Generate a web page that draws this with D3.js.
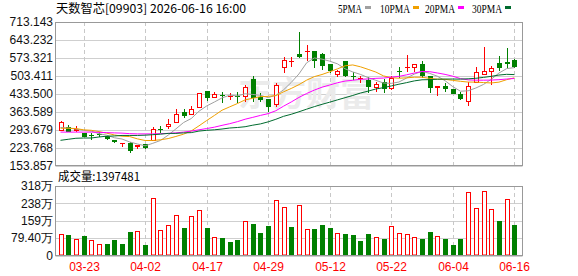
<!DOCTYPE html>
<html><head><meta charset="utf-8">
<script src="https://cdn.jsdelivr.net/npm/d3@7"></script>
<style>html,body{margin:0;padding:0;background:#fff;}svg{display:block;}</style>
</head><body><svg id="c" width="578" height="276"></svg>
<script>
const title = "天数智芯[09903] 2026-06-16 16:00";
const dates = ["03-18","03-19","03-20","03-23","03-24","03-25","03-26","03-27","03-30","03-31",
"04-01","04-02","04-08","04-09","04-10","04-13","04-14","04-15","04-16","04-17",
"04-20","04-21","04-22","04-23","04-24","04-27","04-28","04-29","04-30","05-04",
"05-05","05-06","05-07","05-08","05-11","05-12","05-13","05-14","05-15","05-18",
"05-19","05-20","05-21","05-22","05-26","05-27","05-28","05-29","06-01","06-02",
"06-03","06-04","06-05","06-08","06-09","06-10","06-11","06-12","06-15","06-16"];
const open  = [289.3,304.9,287.0,280.3,272.6,275.0,269.8,253.0,236.3,240.2,226.9,236.3,248.0,298.0,303.8,318.2,362.2,349.4,376.6,445.3,
418.0,429.0,424.0,426.0,421.9,490.9,421.9,413.0,389.5,532.6,558.0,588.4,597.3,600.1,588.4,549.4,506.5,561.1,502.0,491.0,
487.0,454.6,480.0,450.7,521.0,535.0,535.0,548.0,502.6,454.6,463.6,451.9,432.4,402.4,474.1,506.5,519.5,552.0,556.0,565.0];
const high  = [327.0,311.0,307.6,281.0,279.2,285.4,270.0,253.0,240.2,246.4,233.6,237.6,302.6,307.6,333.5,373.9,373.9,386.8,437.5,445.3,
440.2,441.4,436.0,441.0,467.5,503.8,435.1,413.0,476.5,575.5,578.0,673.0,623.5,601.0,591.0,549.4,526.0,561.1,519.0,502.0,
497.5,480.0,490.9,502.0,536.0,584.5,548.0,562.0,503.0,463.6,476.5,451.9,439.0,480.0,536.5,614.5,541.6,580.6,610.6,569.0];
const low   = [289.0,284.0,286.0,264.0,253.0,265.9,255.0,242.5,227.0,203.5,216.8,219.0,248.0,281.5,294.8,318.0,337.6,349.0,376.6,405.1,
415.0,396.0,409.0,396.0,402.4,402.4,400.0,361.0,383.0,513.0,539.0,571.6,561.0,535.0,526.0,513.0,497.5,497.5,487.0,477.0,
435.0,441.0,437.5,450.0,493.0,519.0,519.0,496.0,437.5,424.6,441.0,432.4,410.0,386.8,474.0,506.0,467.5,523.0,532.6,532.6];
const close = [323.2,285.2,295.9,265.9,268.7,272.6,256.9,246.4,240.2,211.3,233.6,221.9,294.8,295.5,315.2,354.4,346.6,372.7,437.5,418.0,
431.2,427.0,426.0,424.0,458.5,418.0,410.2,383.0,467.5,565.0,562.0,575.5,601.2,561.1,541.6,523.3,524.0,503.8,500.0,493.0,
461.0,471.4,450.7,493.6,519.0,539.0,548.0,503.8,454.6,463.6,451.9,432.4,414.1,463.6,517.0,522.0,532.6,535.0,550.5,536.5];
// volume in 万 (10k shares)
const volume = [97.5,93,75,88.5,70,51,52,70,52,107,111,48,264,116,141.5,187,125,182,210,125,
82.5,79,61,70,156.5,143,102,134,255,223,129,232,119,120,138,125,105,97.5,93,67,
97.5,82.5,75,137,105,96,82.5,75,107,87,75,48,75,291,219,296,214,156.5,259.5,139.7481];
// volume bar direction as drawn: 1 = red (up), 0 = green (down)
const volUp = [1,0,1,0,1,1,0,0,0,0,1,0,1,1,1,1,0,1,1,0,
1,0,0,0,1,0,0,0,1,1,0,1,1,0,0,0,1,0,0,0,
0,1,0,1,1,1,1,0,0,1,0,0,0,1,1,1,1,0,1,0];
// MA values before a full window is available
const ma5Head  = [302,300,296,291];
const ma10Head = [299,299,298,293,291,286,280,273,268];
const ma20Head = [284,284,284,284,284,283,282,281,280,278,277,277,277,278,279,281,284,288,293];
const ma30Head = [252,256,260,261,261,265,268,269,271,271,271,272,274,276,279,279,281,282,288,291,293,296,300,302,305,311,316,324,334];
const priceTicks = [153.857,223.768,293.679,363.589,433.500,503.411,573.321,643.232,713.143];
const volTicks = [0,79.4,158.8,238.2,317.6];
const volTickLabels = ["0","79.40万","159万","238万","318万"];
const xTicks = ["03-23","04-02","04-17","04-29","05-12","05-22","06-04","06-16"];
const maNames = ["5PMA","10PMA","20PMA","30PMA"];
const maColors = ["#a0a0a0","#f0a000","#ff00ff","#006b2e"];
const volLabel = "成交量:1397481";

function ma(n, head){
  return close.map((c,i)=> i < n-1 ? head[i] : d3.mean(close.slice(i-n+1,i+1)));
}
const maSeries = [ma(5,ma5Head), ma(10,ma10Head), ma(20,ma20Head), ma(30,ma30Head)];

const svg = d3.select("#c");
const L = 55.5, R = 522.5, T = 22, B = 165.5, VT = 186, VB = 255.5;
const x = d3.scalePoint().domain(dates).range([60.5, 514.3]);
const y = d3.scaleLinear().domain([153.857, 713.143]).range([B, T]);
const yv = d3.scaleLinear().domain([0, 317.6]).range([VB, VT]);
const cx = d => Math.round(x(d)) + 0.5;
const RED = "#ff0000", GREEN = "#008000";

// grids
const g = svg.append("g");
g.selectAll(".hg").data(priceTicks).join("line")
  .attr("x1",L).attr("x2",R).attr("y1",d=>Math.round(y(d))+0.5).attr("y2",d=>Math.round(y(d))+0.5)
  .attr("stroke","#cfcfcf").attr("stroke-width",1);
g.selectAll(".vg").data(volTicks).join("line")
  .attr("x1",L).attr("x2",R).attr("y1",d=>Math.round(yv(d))+0.5).attr("y2",d=>Math.round(yv(d))+0.5)
  .attr("stroke","#cfcfcf").attr("stroke-width",1);
xTicks.forEach(t=>{
  [[T,B],[VT,VB]].forEach(([a,b])=>{
    g.append("line").attr("x1",cx(t)).attr("x2",cx(t)).attr("y1",a).attr("y2",b)
      .attr("stroke","#c8c8c8").attr("stroke-dasharray","4,3");
  });
});

// watermark
svg.append("text").attr("x",238).attr("y",106).text("东方财富")
  .attr("font-family","Noto Sans CJK SC").attr("font-weight","bold").attr("font-size",34)
  .attr("fill","#ebebeb");

// candles
const idx = d3.range(dates.length);
const cg = svg.append("g");
idx.forEach(i=>{
  const d = dates[i], X = cx(d);
  const up = close[i] >= open[i];
  const col = up ? RED : GREEN;
  const top = Math.round(y(Math.max(open[i],close[i])));
  const bot = Math.round(y(Math.min(open[i],close[i])));
  const hY = Math.round(y(high[i])), lY = Math.round(y(low[i]));
  if (up) {
    if (hY < top) cg.append("line").attr("x1",X).attr("x2",X).attr("y1",hY).attr("y2",top+0.5).attr("stroke",col);
    if (lY > bot) cg.append("line").attr("x1",X).attr("x2",X).attr("y1",bot-0.5).attr("y2",lY).attr("stroke",col);
    if (bot - top >= 2) {
      cg.append("rect").attr("x",X-2).attr("y",top+0.5).attr("width",4).attr("height",bot-top-1)
        .attr("fill","#fff").attr("stroke",col).attr("stroke-width",1);
    } else {
      cg.append("rect").attr("x",X-2.5).attr("y",top).attr("width",5).attr("height",Math.max(1,bot-top)).attr("fill",col);
    }
  } else {
    cg.append("line").attr("x1",X).attr("x2",X).attr("y1",hY).attr("y2",lY).attr("stroke",col);
    cg.append("rect").attr("x",X-2.5).attr("y",top).attr("width",5).attr("height",Math.max(1,bot-top)).attr("fill",col);
  }
});

// MA lines
const line = d3.line().x((v,i)=>x(dates[i])).y(v=>y(v));
maSeries.forEach((s,k)=>{
  svg.append("path").attr("d",line(s)).attr("fill","none").attr("stroke",maColors[k]).attr("stroke-width",1);
});

// volume bars
const vg = svg.append("g");
idx.forEach(i=>{
  const X = cx(dates[i]);
  const t = Math.round(yv(volume[i]));
  if (volUp[i]) {
    vg.append("rect").attr("x",X-2).attr("y",t+0.5).attr("width",4).attr("height",VB-0.5-t-0.5)
      .attr("fill","#fff").attr("stroke",RED).attr("stroke-width",1);
  } else {
    vg.append("rect").attr("x",X-2.5).attr("y",t).attr("width",5).attr("height",VB-0.5-t).attr("fill",GREEN);
  }
});

// frames
const fr = svg.append("g").attr("stroke","#999").attr("fill","none");
fr.append("rect").attr("x",L).attr("y",T+0.5).attr("width",R-L).attr("height",B-T-0.5);
fr.append("rect").attr("x",L).attr("y",VT+0.5).attr("width",R-L).attr("height",VB-VT-0.5);

// axes labels
const fontAx = "Liberation Sans, Arial, sans-serif";
svg.append("g").selectAll("text").data(priceTicks).join("text")
  .attr("x",53).attr("y",d=>y(d)).attr("dy","0.36em").attr("text-anchor","end")
  .attr("font-family",fontAx).attr("font-size",12).attr("fill","#111")
  .text(d=>d.toFixed(3));
svg.append("g").selectAll("text").data(volTicks).join("text")
  .attr("x",53).attr("y",d=>yv(d)).attr("dy","0.36em").attr("text-anchor","end")
  .attr("font-family",fontAx).attr("font-size",12).attr("fill","#111")
  .text((d,i)=>volTickLabels[i]);
svg.append("g").selectAll("text").data(xTicks).join("text")
  .attr("x",d=>cx(d)).attr("y",270.5).attr("text-anchor","middle")
  .attr("font-family",fontAx).attr("font-size",12).attr("fill",RED)
  .text(d=>d);

// title
svg.append("text").attr("x",56).attr("y",12.5).text(title)
  .attr("font-family","Noto Sans CJK SC").attr("font-size",12).attr("fill","#000")
  .attr("textLength",190).attr("lengthAdjust","spacingAndGlyphs");
// legend
const legX = [338, 380, 425, 472], legW = [24, 30, 30, 30];
maNames.forEach((n,k)=>{
  svg.append("text").attr("x",legX[k]).attr("y",12.5).text(n)
    .attr("font-family","Liberation Serif, serif").attr("font-size",12).attr("fill","#000")
    .attr("textLength",legW[k]).attr("lengthAdjust","spacingAndGlyphs");
  svg.append("rect").attr("x",legX[k]+legW[k]+3).attr("y",6).attr("width",6).attr("height",3).attr("fill",maColors[k]);
});
// volume label
svg.append("text").attr("x",58).attr("y",181).text(volLabel)
  .attr("font-family","Noto Sans CJK SC").attr("font-size",12).attr("fill","#000")
  .attr("textLength",82).attr("lengthAdjust","spacingAndGlyphs");
</script></body></html>
